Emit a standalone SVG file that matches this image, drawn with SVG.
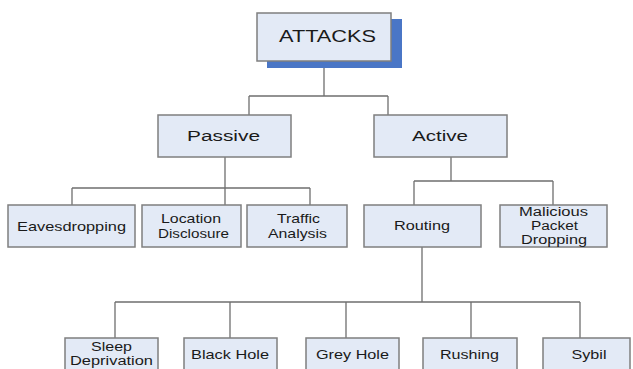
<svg xmlns="http://www.w3.org/2000/svg" width="633" height="369" viewBox="0 0 633 369">
<style>
.box{fill:#e3eaf6;stroke:#7f7f7f;stroke-width:1.5}
.ln{fill:none;stroke:#6f6f6f;stroke-width:1.3}
text{font-family:"Liberation Sans",Arial,sans-serif;fill:#1a1a1a;text-anchor:middle}
.s{font-size:13px}
.t{font-size:12px}
.m{font-size:15.5px}
</style>
<rect width="633" height="369" fill="#fff"/>
<g id="connectors">
<path class="ln" d="M324 61V96M249 96H388M249 96V115M388 96V115"/>
<path class="ln" d="M225 157V188M72 188H310M72 188V205M225 188V205M310 188V205"/>
<path class="ln" d="M451 157V181M414 181H553M414 181V205M553 181V205"/>
<path class="ln" d="M422 247V302M115 302H580M115 302V338M230 302V338M346 302V338M471 302V338M580 302V338"/>
</g>
<g id="attacks">
<rect x="267" y="19" width="135" height="49" fill="#4a76c6"/>
<rect class="box" x="257" y="13" width="134" height="48"/>
<text x="327.5" y="42" style="font-size:17px" textLength="97" lengthAdjust="spacingAndGlyphs">ATTACKS</text>
</g>
<g id="passive">
<rect class="box" x="158" y="115" width="133" height="42"/>
<text class="m" x="223.5" y="141" textLength="73" lengthAdjust="spacingAndGlyphs">Passive</text>
</g>
<g id="active">
<rect class="box" x="374" y="115" width="133" height="42"/>
<text class="m" x="440" y="141" textLength="56" lengthAdjust="spacingAndGlyphs">Active</text>
</g>
<g id="eavesdropping">
<rect class="box" x="8" y="205" width="127" height="42"/>
<text class="s" x="71.5" y="231" textLength="109" lengthAdjust="spacingAndGlyphs">Eavesdropping</text>
</g>
<g id="location">
<rect class="box" x="142" y="205" width="99" height="42"/>
<text class="s" x="191" y="223" textLength="60" lengthAdjust="spacingAndGlyphs">Location</text>
<text class="s" x="193.5" y="238" textLength="71" lengthAdjust="spacingAndGlyphs">Disclosure</text>
</g>
<g id="traffic">
<rect class="box" x="247" y="205" width="100" height="42"/>
<text class="s" x="298.5" y="223" textLength="43" lengthAdjust="spacingAndGlyphs">Traffic</text>
<text class="s" x="297.5" y="238" textLength="59" lengthAdjust="spacingAndGlyphs">Analysis</text>
</g>
<g id="routing">
<rect class="box" x="364" y="205" width="117" height="42"/>
<text class="s" x="422" y="230" textLength="56" lengthAdjust="spacingAndGlyphs">Routing</text>
</g>
<g id="malicious">
<rect class="box" x="500" y="205" width="107" height="42"/>
<text class="t" x="553.5" y="215.5" textLength="69" lengthAdjust="spacingAndGlyphs">Malicious</text>
<text class="t" x="554.5" y="229.5" textLength="47" lengthAdjust="spacingAndGlyphs">Packet</text>
<text class="t" x="554" y="243.5" textLength="66" lengthAdjust="spacingAndGlyphs">Dropping</text>
</g>
<g id="sleep">
<rect class="box" x="65" y="338" width="93" height="40"/>
<text class="t" x="111.5" y="351" textLength="41" lengthAdjust="spacingAndGlyphs">Sleep</text>
<text class="t" x="111.5" y="365" textLength="83" lengthAdjust="spacingAndGlyphs">Deprivation</text>
</g>
<g id="blackhole">
<rect class="box" x="184" y="338" width="93" height="40"/>
<text class="s" x="230" y="359" textLength="78" lengthAdjust="spacingAndGlyphs">Black Hole</text>
</g>
<g id="greyhole">
<rect class="box" x="306" y="338" width="93" height="40"/>
<text class="s" x="352.5" y="359" textLength="73" lengthAdjust="spacingAndGlyphs">Grey Hole</text>
</g>
<g id="rushing">
<rect class="box" x="423" y="338" width="94" height="40"/>
<text class="s" x="469.5" y="359" textLength="59" lengthAdjust="spacingAndGlyphs">Rushing</text>
</g>
<g id="sybil">
<rect class="box" x="543" y="338" width="87" height="40"/>
<text class="s" x="589" y="359" textLength="35" lengthAdjust="spacingAndGlyphs">Sybil</text>
</g>
</svg>
